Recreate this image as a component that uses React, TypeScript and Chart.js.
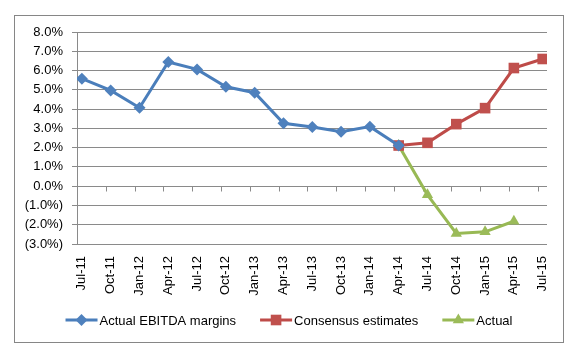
import React, { useEffect, useRef } from "react";
import { Chart, registerables } from "chart.js";

Chart.register(...registerables);

const categories = [
  "Jul-11", "Oct-11", "Jan-12", "Apr-12", "Jul-12", "Oct-12", "Jan-13", "Apr-13", "Jul-13",
  "Oct-13", "Jan-14", "Apr-14", "Jul-14", "Oct-14", "Jan-15", "Apr-15", "Jul-15",
];
const actualEbitda: (number | null)[] = [
  5.58, 4.97, 4.07, 6.44, 6.06, 5.16, 4.85, 3.26, 3.07, 2.83, 3.09, 2.11,
  null, null, null, null, null,
];
const consensus: (number | null)[] = [
  null, null, null, null, null, null, null, null, null, null, null,
  2.11, 2.25, 3.22, 4.05, 6.13, 6.6,
];
const actual: (number | null)[] = [
  null, null, null, null, null, null, null, null, null, null, null,
  2.11, -0.45, -2.45, -2.37, -1.82, null,
];
const seriesNames = ["Actual EBITDA margins", "Consensus estimates", "Actual"];
const yMin = -3;
const yMax = 8;

const FONT = "'Liberation Sans', Arial, sans-serif";
const GRID = "#8a8a8a";
const BLUE_LINE = "#4a7ebb";
const BLUE_PT = "#4f81bd";
const RED_LINE = "#be4b48";
const RED_PT = "#c0504d";
const GREEN_LINE = "#98b954";
const GREEN_PT = "#9bbb59";

const toPoints = (arr: (number | null)[]) =>
  arr
    .map((v, i) => (v === null ? null : { x: i, y: v }))
    .filter((p) => p !== null) as { x: number; y: number }[];

function drawMarker(ctx: CanvasRenderingContext2D, style: string, x: number, y: number, r: number, color: string) {
  ctx.save();
  ctx.fillStyle = color;
  ctx.beginPath();
  if (style === "rectRot") {
    ctx.moveTo(x - r, y);
    ctx.lineTo(x, y - r);
    ctx.lineTo(x + r, y);
    ctx.lineTo(x, y + r);
  } else if (style === "rect") {
    const s = r * Math.SQRT1_2;
    ctx.rect(x - s, y - s, 2 * s, 2 * s);
  } else {
    const a = (2 * Math.PI) / 3;
    ctx.moveTo(x, y - r);
    ctx.lineTo(x + Math.sin(a) * r, y - Math.cos(a) * r);
    ctx.lineTo(x + Math.sin(2 * a) * r, y - Math.cos(2 * a) * r);
  }
  ctx.closePath();
  ctx.fill();
  ctx.restore();
}

const framePlugin = {
  id: "frame",
  beforeDraw(chart: any) {
    const ctx = chart.ctx as CanvasRenderingContext2D;
    ctx.save();
    ctx.fillStyle = "#ffffff";
    ctx.fillRect(0, 0, chart.width, chart.height);
    ctx.strokeStyle = "#868686";
    ctx.lineWidth = 1;
    ctx.strokeRect(14.5, 15.5, 549, 327);
    ctx.restore();
  },
  afterDatasetsDraw() {},
  beforeDatasetsDraw(chart: any) {
    // small category tick marks on the zero line
    const ctx = chart.ctx as CanvasRenderingContext2D;
    const xs = chart.scales.x;
    const ys = chart.scales.y;
    const y0 = Math.round(ys.getPixelForValue(0)) + 0.5;
    ctx.save();
    ctx.strokeStyle = GRID;
    ctx.lineWidth = 1;
    ctx.beginPath();
    for (let k = 0; k < categories.length; k++) {
      const x = Math.round(xs.getPixelForValue(k - 0.17)) + 0.5;
      ctx.moveTo(x, y0);
      ctx.lineTo(x, y0 + 5);
    }
    ctx.stroke();
    ctx.restore();
  },
  afterDraw(chart: any) {
    const ctx = chart.ctx as CanvasRenderingContext2D;
    const items = chart.data.datasets.map((d: any) => ({
      text: d.label,
      line: d.borderColor,
      fill: d.pointBackgroundColor,
      style: d.pointStyle,
      r: d.pointRadius,
    }));
    ctx.save();
    ctx.font = `13px ${FONT}`;
    ctx.textBaseline = "middle";
    const lineW = 32;
    const gap = 24;
    const widths = items.map((it: any) => lineW + 2 + ctx.measureText(it.text).width);
    const total = widths.reduce((a: number, b: number) => a + b, 0) + gap * (items.length - 1);
    let x = 289 - total / 2;
    const y = 320;
    items.forEach((it: any, i: number) => {
      ctx.strokeStyle = it.line;
      ctx.lineWidth = 3;
      ctx.beginPath();
      ctx.moveTo(x, y);
      ctx.lineTo(x + lineW, y);
      ctx.stroke();
      drawMarker(ctx, it.style, x + lineW / 2, y, it.r, it.fill);
      ctx.fillStyle = "#000000";
      ctx.textAlign = "left";
      ctx.fillText(it.text, x + lineW + 2, y + 1);
      x += widths[i] + gap;
    });
    ctx.restore();
  },
};

export default function App() {
  const ref = useRef<HTMLCanvasElement | null>(null);
  useEffect(() => {
    if (!ref.current) return;
    const chart = new Chart(ref.current, {
      type: "line",
      data: {
        datasets: [
          {
            label: seriesNames[0],
            data: toPoints(actualEbitda),
            borderColor: BLUE_LINE,
            backgroundColor: BLUE_PT,
            pointBackgroundColor: BLUE_PT,
            pointBorderWidth: 0,
            pointStyle: "rectRot",
            pointRadius: 6,
            borderWidth: 3,
            tension: 0,
          },
          {
            label: seriesNames[1],
            data: toPoints(consensus),
            borderColor: RED_LINE,
            backgroundColor: RED_PT,
            pointBackgroundColor: RED_PT,
            pointBorderWidth: 0,
            pointStyle: "rect",
            pointRadius: 7.5,
            borderWidth: 3,
            tension: 0,
          },
          {
            label: seriesNames[2],
            data: toPoints(actual),
            borderColor: GREEN_LINE,
            backgroundColor: GREEN_PT,
            pointBackgroundColor: GREEN_PT,
            pointBorderWidth: 0,
            pointStyle: "triangle",
            pointRadius: 6.5,
            borderWidth: 3,
            tension: 0,
          },
        ],
      },
      options: {
        animation: false,
        responsive: false,
        maintainAspectRatio: false,
        layout: { padding: { left: 0, top: 32, right: 26, bottom: 0 } },
        plugins: { legend: { display: false }, tooltip: { enabled: false } },
        scales: {
          x: {
            type: "linear",
            min: -0.17,
            max: 16.15,
            grid: { display: false, drawTicks: false },
            border: { display: false },
            ticks: {
              stepSize: 1,
              includeBounds: false,
              autoSkip: false,
              minRotation: 90,
              maxRotation: 90,
              padding: 12,
              color: "#000000",
              font: { family: FONT, size: 13 },
              callback: (v: any) => {
                const n = Number(v);
                return Number.isInteger(n) && categories[n] ? categories[n] : "";
              },
            },
            afterFit: (s: any) => {
              s.height = 113;
            },
          },
          y: {
            min: yMin,
            max: yMax,
            grid: { color: GRID, lineWidth: 1, tickLength: 5, drawTicks: true },
            border: { display: true, color: GRID, width: 1 },
            ticks: {
              stepSize: 1,
              padding: 9,
              color: "#000000",
              font: { family: FONT, size: 13 },
              callback: (v: any) => {
                const n = Number(v);
                return n < 0 ? `(${Math.abs(n).toFixed(1)}%)` : `${n.toFixed(1)}%`;
              },
            },
            afterFit: (s: any) => {
              s.width = 77;
            },
          },
        },
      },
      plugins: [framePlugin],
    } as any);
    return () => chart.destroy();
  }, []);
  return (
    <div style={{ position: "fixed", left: 0, top: 0, width: 573, height: 357 }}>
      <canvas ref={ref} width={573} height={357} style={{ width: 573, height: 357 }} />
    </div>
  );
}
